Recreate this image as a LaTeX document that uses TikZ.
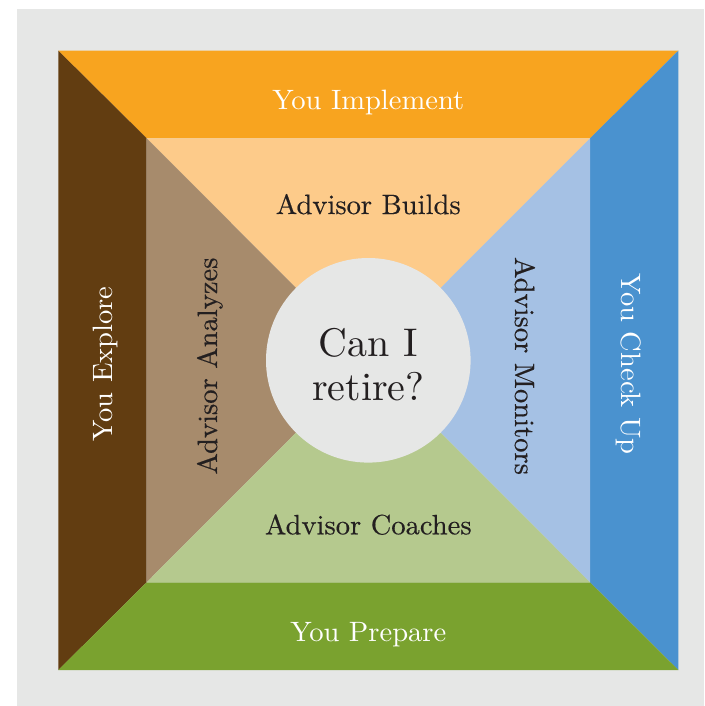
\documentclass[tikz,border=0pt]{standalone}
\usepackage{fontspec}
\newfontfamily\bandfamily{lmroman10-regular.otf}[FakeStretch=1.02]
\newfontfamily\advisorfamily{lmroman10-regular.otf}[FakeStretch=1.02,FakeBold=0.4]
\newfontfamily\questionfamily{lmroman10-regular.otf}
\definecolor{pageback}{HTML}{E6E7E6}
\definecolor{implement}{HTML}{F8A41F}
\definecolor{builds}{HTML}{FDCB8A}
\definecolor{explore}{HTML}{623D11}
\definecolor{analyzes}{HTML}{A78B6C}
\definecolor{checkup}{HTML}{4A92CF}
\definecolor{monitors}{HTML}{A5C1E4}
\definecolor{prepare}{HTML}{7AA22F}
\definecolor{coaches}{HTML}{B5C98E}
\definecolor{darktext}{HTML}{231F20}
\begin{document}
\begin{tikzpicture}[x=1pt,y=-1pt,
  outerlabel/.style={text=white,font=\bandfamily\fontsize{28}{32}\selectfont,anchor=base,inner sep=0pt},
  innerlabel/.style={text=darktext,font=\advisorfamily\fontsize{28}{32}\selectfont,anchor=base,inner sep=0pt},
  centrelabel/.style={text=darktext,font=\questionfamily\fontsize{40}{44}\selectfont,anchor=base,inner sep=0pt}]
  \useasboundingbox (0,0) rectangle (704,706);
  \fill[pageback] (17,9.5) rectangle (704,706);
  % outer and inner square corners, centre
  \coordinate (o1) at (58.3,50.7);
  \coordinate (o2) at (678.3,50.7);
  \coordinate (o3) at (678.3,670);
  \coordinate (o4) at (58.3,670);
  \coordinate (i1) at (146.7,138.3);
  \coordinate (i2) at (590,138.3);
  \coordinate (i3) at (590,582.3);
  \coordinate (i4) at (146.7,582.3);
  \coordinate (c) at (368.3,360.3);
  % outer bands
  \fill[implement] (o1) -- (o2) -- (i2) -- (i1) -- cycle;
  \fill[explore] (o1) -- (i1) -- (i4) -- (o4) -- cycle;
  \fill[checkup] (o2) -- (o3) -- (i3) -- (i2) -- cycle;
  \fill[prepare] (o4) -- (i4) -- (i3) -- (o3) -- cycle;
  % inner triangles
  \fill[builds] (i1) -- (i2) -- (c) -- cycle;
  \fill[analyzes] (i1) -- (c) -- (i4) -- cycle;
  \fill[monitors] (i2) -- (i3) -- (c) -- cycle;
  \fill[coaches] (i4) -- (c) -- (i3) -- cycle;
  % centre disc
  \fill[pageback] (c) circle[radius=102.3];
  % labels
  \node[outerlabel] (implementlbl) at (368.3,109.3) {You Implement};
  \node[outerlabel] (preparelbl) at (368.3,641.3) {You Prepare};
  \node[outerlabel,rotate=90] (explorelbl) at (112,364) {You Explore};
  \node[outerlabel,rotate=-90] (checkuplbl) at (621,364) {You Check Up};
  \node[innerlabel] (buildslbl) at (368.3,214) {Advisor Builds};
  \node[innerlabel] (coacheslbl) at (368.3,534.3) {Advisor Coaches};
  \node[innerlabel,rotate=90] (analyzeslbl) at (217,366) {Advisor Analyzes};
  \node[innerlabel,rotate=-90] (monitorslbl) at (515,366) {Advisor Monitors};
  \node[centrelabel] (questiona) at (368.3,356) {Can I};
  \node[centrelabel] (questionb) at (368.3,400) {retire?};
\end{tikzpicture}
\end{document}
